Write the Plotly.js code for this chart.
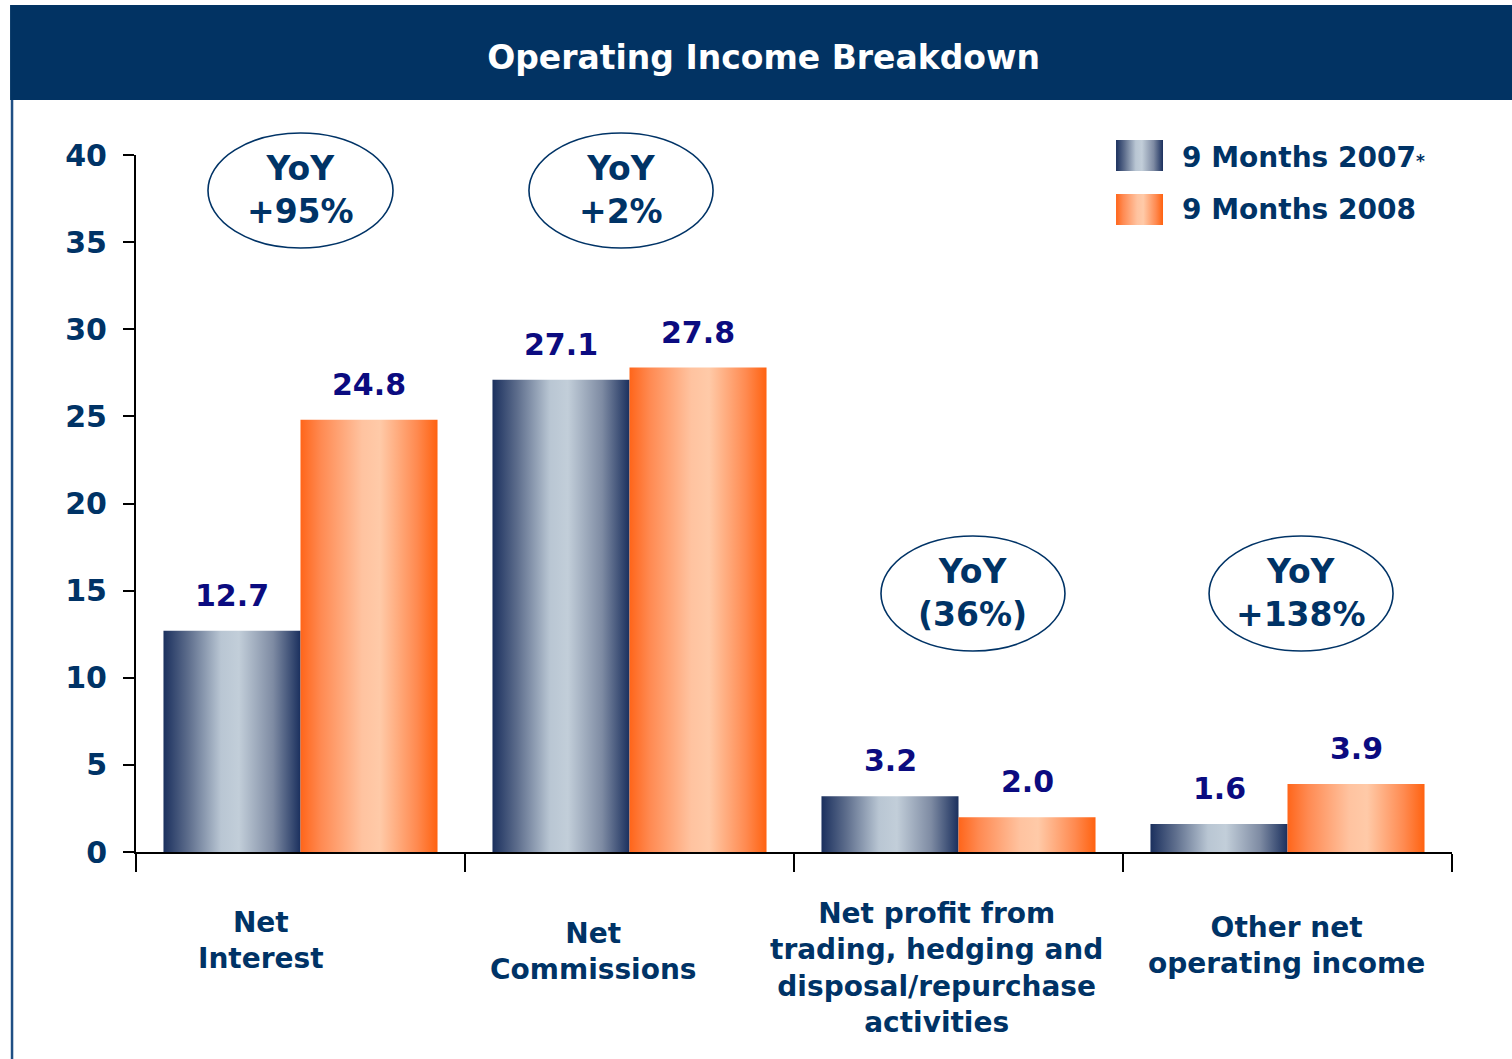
<!DOCTYPE html>
<html>
<head>
<meta charset="utf-8">
<script src="https://cdn.plot.ly/plotly-3.0.1.min.js"></script>
<style>
  html, body { margin: 0; padding: 0; background: #ffffff; }
  #chart { width: 1512px; height: 1059px; }
</style>
</head>
<body>
<svg width="0" height="0" style="position:absolute">
  <defs>
    <linearGradient id="grad2007" x1="0" y1="0" x2="1" y2="0">
      <stop offset="0" stop-color="#1b305e"/>
      <stop offset="0.18" stop-color="#5d6d8c"/>
      <stop offset="0.42" stop-color="#b9c6d3"/>
      <stop offset="0.55" stop-color="#c2ced9"/>
      <stop offset="0.8" stop-color="#7e8ba3"/>
      <stop offset="1" stop-color="#1b305e"/>
    </linearGradient>
    <linearGradient id="grad2008" x1="0" y1="0" x2="1" y2="0">
      <stop offset="0" stop-color="#ff651a"/>
      <stop offset="0.15" stop-color="#ff8a52"/>
      <stop offset="0.45" stop-color="#ffc3a0"/>
      <stop offset="0.58" stop-color="#ffcaa8"/>
      <stop offset="0.85" stop-color="#ff8a50"/>
      <stop offset="1" stop-color="#ff6210"/>
    </linearGradient>
  </defs>
</svg>
<div id="chart"></div>
<script>
// ---- data ----
const categories = [
  'Net<br>Interest',
  'Net<br>Commissions',
  'Net profit from<br>trading, hedging and<br>disposal/repurchase<br>activities',
  'Other net<br>operating income'
];
const seriesNames = ['9 Months 2007', '9 Months 2008'];
const values2007 = [12.7, 27.1, 3.2, 1.6];
const values2008 = [24.8, 27.8, 2.0, 3.9];
const yoyLabels = ['+95%', '+2%', '(36%)', '+138%'];
const yTickValues = [0, 5, 10, 15, 20, 25, 30, 35, 40];
const chartTitle = 'Operating Income Breakdown';

// ---- styling ----
const FONT = 'DejaVu Sans, Verdana, sans-serif';
const NAVY = '#003366';
const LABEL = '#0b0b80';

const traces = [
  {
    type: 'bar', name: seriesNames[0], x: categories, y: values2007,
    marker: { color: '#8e9bb2', line: { width: 0 } }, showlegend: false, hoverinfo: 'skip'
  },
  {
    type: 'bar', name: seriesNames[1], x: categories, y: values2008,
    marker: { color: '#ff9a66', line: { width: 0 } }, showlegend: false, hoverinfo: 'skip'
  }
];

const annotations = [];
// value labels
[values2007, values2008].forEach((vals, s) => {
  vals.forEach((v, i) => {
    annotations.push({
      x: categories[i], y: v, xref: 'x', yref: 'y',
      xshift: s === 0 ? -68.5 : 68.5, yshift: 16,
      yanchor: 'bottom', xanchor: 'center', showarrow: false,
      text: v.toFixed(1),
      font: { family: FONT, size: 30, color: LABEL, weight: 'bold' }
    });
  });
});

// category labels
const catLabelPos = [[0.095, -0.127], [0.348, -0.143], [0.608, -0.166], [0.874, -0.134]];
categories.forEach((c, i) => {
  annotations.push({
    x: catLabelPos[i][0], y: catLabelPos[i][1], xref: 'paper', yref: 'paper',
    xanchor: 'center', yanchor: 'middle', showarrow: false, align: 'center',
    text: c, font: { family: FONT, size: 28, color: NAVY, weight: 'bold' }
  });
});

// YoY ellipses
const ellipsePos = [
  [0.0547, 0.1953, 0.8666, 1.0316],
  [0.2986, 0.4385, 0.8666, 1.0316],
  [0.5661, 0.7059, 0.2884, 0.4534],
  [0.8154, 0.9552, 0.2884, 0.4534]
];
const shapes = [];
// header band
shapes.push({ type: 'rect', xref: 'paper', yref: 'paper', x0: -0.0957, x1: 1.05, y0: 1.0789, y1: 1.2152,
  fillcolor: '#023363', line: { width: 0 }, layer: 'above' });
// left border
shapes.push({ type: 'line', xref: 'paper', yref: 'paper', x0: -0.0942, x1: -0.0942, y0: -0.31, y1: 1.0789,
  line: { color: '#1f4f84', width: 2.5 }, layer: 'above' });
ellipsePos.forEach((p, i) => {
  shapes.push({ type: 'circle', xref: 'paper', yref: 'paper', x0: p[0], x1: p[1], y0: p[2], y1: p[3],
    line: { color: NAVY, width: 1.6 }, fillcolor: 'rgba(0,0,0,0)', layer: 'above' });
  annotations.push({
    x: (p[0] + p[1]) / 2, y: (p[2] + p[3]) / 2, xref: 'paper', yref: 'paper',
    xanchor: 'center', yanchor: 'middle', showarrow: false, align: 'center',
    text: 'YoY<br>' + yoyLabels[i],
    font: { family: FONT, size: 33, color: NAVY, weight: 'bold' }
  });
});

// legend (custom)
const swatchY = [[0.9770, 1.0215], [0.8996, 0.9441]];
const legendTextY = [0.9971, 0.9221];
const swatchStart = shapes.length;
seriesNames.forEach((n, i) => {
  shapes.push({ type: 'rect', xref: 'paper', yref: 'paper', x0: 0.7447, x1: 0.7804,
    y0: swatchY[i][0], y1: swatchY[i][1],
    fillcolor: i === 0 ? '#8e9bb2' : '#ff9a66', line: { width: 0 }, layer: 'above' });
  annotations.push({
    x: 0.7935, y: legendTextY[i], xref: 'paper', yref: 'paper',
    xanchor: 'left', yanchor: 'middle', showarrow: false,
    text: n + (i === 0 ? '<span style="font-size:17px">*</span>' : ''),
    font: { family: FONT, size: 28, color: NAVY, weight: 'bold' }
  });
});

const layout = {
  width: 1512, height: 1059,
  margin: { l: 136, r: 60, t: 155, b: 207 },
  paper_bgcolor: '#ffffff', plot_bgcolor: '#ffffff',
  barmode: 'group', bargap: 0.167, bargroupgap: 0,
  showlegend: false,
  title: {
    text: chartTitle, x: 0.505, xref: 'container', xanchor: 'center',
    y: 0.946, yref: 'container', yanchor: 'middle',
    font: { family: FONT, size: 33, color: '#ffffff', weight: 'bold' }
  },
  xaxis: {
    type: 'category', showticklabels: false, showgrid: false, zeroline: false,
    showline: true, linecolor: '#000000', linewidth: 2,
    ticks: 'outside', tickson: 'boundaries', ticklen: 18, tickwidth: 2, tickcolor: '#000000',
    fixedrange: true
  },
  yaxis: {
    range: [0, 40], tickvals: yTickValues, ticktext: yTickValues.map(String),
    showgrid: false, zeroline: false,
    showline: true, linecolor: '#000000', linewidth: 2,
    ticks: 'outside', ticklen: 11, tickwidth: 2, tickcolor: '#000000',
    ticklabelstandoff: 10,
    tickfont: { family: FONT, size: 30, color: NAVY, weight: 'bold' },
    fixedrange: true
  },
  shapes: shapes,
  annotations: annotations
};

Plotly.newPlot('chart', traces, layout, { staticPlot: true, displayModeBar: false }).then(gd => {
  const grads = ['url(#grad2007)', 'url(#grad2008)'];
  gd.querySelectorAll('.trace.bars').forEach((t, i) => {
    t.querySelectorAll('path').forEach(p => { p.style.fill = grads[i]; });
  });
  for (let k = 0; k < 2; k++) {
    gd.querySelectorAll('.shapelayer path[data-index="' + (swatchStart + k) + '"]').forEach(p => {
      p.style.fill = grads[k];
    });
  }
});
</script>
</body>
</html>
